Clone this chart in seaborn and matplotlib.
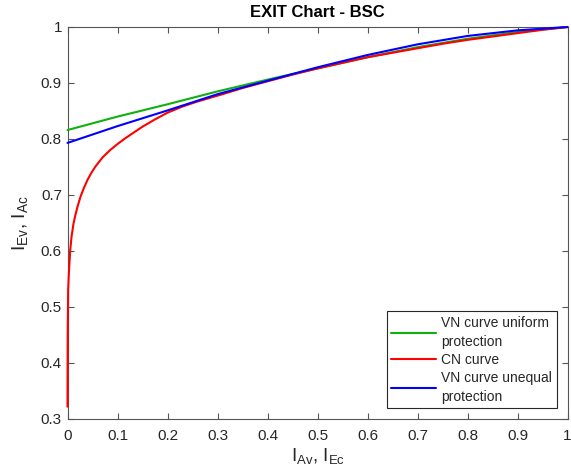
import numpy as np
import pandas as pd
import matplotlib
matplotlib.use("Agg")
import matplotlib.pyplot as plt
import seaborn as sns

# ---- data ----
vn_uniform_x = [0.0, 0.1, 0.2, 0.3, 0.4, 0.5, 0.6, 0.7, 0.8, 0.9, 1.0]
vn_uniform_y = [0.816, 0.840, 0.862, 0.885, 0.906, 0.926, 0.946, 0.964, 0.979, 0.991, 1.0]

cn_x = [0.0, 0.0004, 0.0013, 0.0027, 0.0053, 0.008, 0.012, 0.016, 0.020, 0.026,
        0.033, 0.040, 0.048, 0.056, 0.070, 0.085, 0.10, 0.115, 0.13, 0.15, 0.175,
        0.20, 0.23, 0.26, 0.31, 0.35, 0.4, 0.45, 0.5, 0.55, 0.6, 0.65, 0.7, 0.75,
        0.8, 0.85, 0.9, 0.95, 1.0]
cn_y = [0.322, 0.45, 0.53, 0.56, 0.60, 0.625, 0.649, 0.665, 0.679, 0.697,
        0.713, 0.727, 0.740, 0.751, 0.767, 0.780, 0.791, 0.801, 0.810, 0.822, 0.835,
        0.847, 0.858, 0.867, 0.880, 0.891, 0.903, 0.915, 0.926, 0.936, 0.946, 0.954,
        0.962, 0.970, 0.977, 0.983, 0.989, 0.995, 1.0]

vn_unequal_x = [0.0, 0.1, 0.2, 0.3, 0.4, 0.5, 0.6, 0.7, 0.8, 0.9, 1.0]
vn_unequal_y = [0.793, 0.823, 0.851, 0.880, 0.904, 0.928, 0.950, 0.969, 0.984, 0.994, 1.0]

labels = ["VN curve uniform\nprotection", "CN curve", "VN curve unequal\nprotection"]
colors = ["#10b010", "#ff0000", "#0000ff"]

xticks = [0, 0.1, 0.2, 0.3, 0.4, 0.5, 0.6, 0.7, 0.8, 0.9, 1]
xticklabels = ["0", "0.1", "0.2", "0.3", "0.4", "0.5", "0.6", "0.7", "0.8", "0.9", "1"]
yticks = [0.3, 0.4, 0.5, 0.6, 0.7, 0.8, 0.9, 1]
yticklabels = ["0.3", "0.4", "0.5", "0.6", "0.7", "0.8", "0.9", "1"]

df = pd.concat([
    pd.DataFrame({"x": vn_uniform_x, "y": vn_uniform_y, "curve": labels[0]}),
    pd.DataFrame({"x": cn_x, "y": cn_y, "curve": labels[1]}),
    pd.DataFrame({"x": vn_unequal_x, "y": vn_unequal_y, "curve": labels[2]}),
], ignore_index=True)

sns.set_theme(style="ticks")
plt.rcParams["font.family"] = ["Liberation Sans", "DejaVu Sans"]
plt.rcParams["mathtext.fontset"] = "custom"
plt.rcParams["mathtext.rm"] = "Liberation Sans"
plt.rcParams["mathtext.it"] = "Liberation Sans:italic"
plt.rcParams["mathtext.bf"] = "Liberation Sans:bold"

fig, ax = plt.subplots(figsize=(5.71, 4.75), dpi=100)
fig.subplots_adjust(left=67.5/571, right=567.5/571, top=1-27/475, bottom=1-419/475)

sns.lineplot(data=df, x="x", y="y", hue="curve", hue_order=labels,
             palette=dict(zip(labels, colors)), estimator=None, sort=False,
             linewidth=1.5, ax=ax)
for ln in ax.get_lines():
    ln.set_zorder(3)
    ln.set_clip_on(False)

ax.set_xlim(0, 1)
ax.set_ylim(0.3, 1)
ax.set_xticks(xticks)
ax.set_xticklabels(xticklabels)
ax.set_yticks(yticks)
ax.set_yticklabels(yticklabels)

axc = "#262626"
for s in ax.spines.values():
    s.set_visible(True)
    s.set_color("#555555")
    s.set_linewidth(0.8)
ax.tick_params(direction="in", length=4, width=0.8, colors="#555555",
               labelcolor=axc, labelsize=11, top=True, right=True)
ax.tick_params(axis="x", pad=7.5)
ax.tick_params(axis="y", pad=4)

ax.set_title("EXIT Chart - BSC", fontsize=12, fontweight="bold", color="black", pad=7.5)
ax.set_xlabel(r"$\mathrm{I}_{\mathrm{Av}}$, $\mathrm{I}_{\mathrm{Ec}}$", fontsize=13.5, color=axc, labelpad=2)
ax.set_ylabel(r"$\mathrm{I}_{\mathrm{Ev}}$, $\mathrm{I}_{\mathrm{Ac}}$", fontsize=14, color=axc, labelpad=8)

leg = ax.legend(loc="lower right", bbox_to_anchor=(0.978, 0.027), borderaxespad=0,
                fancybox=False, framealpha=1, edgecolor="#262626", fontsize=10,
                handlelength=3.2, handletextpad=0.35, labelspacing=0.3,
                borderpad=0.35, title=None)
leg.set_zorder(5)
leg.get_frame().set_linewidth(0.8)
for t in leg.get_texts():
    t.set_color(axc)
    t.set_linespacing(1.42)

fig.savefig("out.png", dpi=100)
